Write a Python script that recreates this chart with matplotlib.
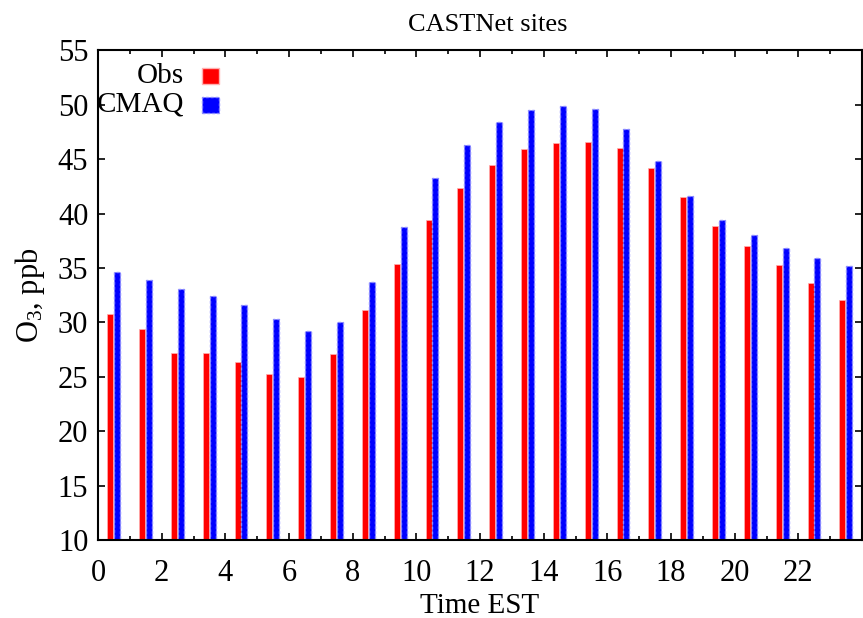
import matplotlib
matplotlib.use("Agg")
import matplotlib.pyplot as plt
from matplotlib.patches import Rectangle
from matplotlib.ticker import MultipleLocator
import numpy as np

# Hourly mean ozone at CASTNet sites
hours = np.arange(24)
obs = [30.8, 29.4, 27.2, 27.2, 26.4, 25.3, 25.0, 27.1, 31.1, 35.4, 39.4, 42.4,
       44.5, 45.9, 46.5, 46.6, 46.0, 44.2, 41.5, 38.9, 37.0, 35.3, 33.6, 32.1]
cmaq = [34.6, 33.9, 33.1, 32.4, 31.6, 30.3, 29.2, 30.0, 33.7, 38.8, 43.3, 46.3,
        48.4, 49.5, 49.9, 49.6, 47.8, 44.8, 41.6, 39.4, 38.0, 36.8, 35.9, 35.2]
series_names = ["Obs", "CMAQ"]

plt.rcParams["font.family"] = ["Liberation Serif", "DejaVu Serif"]
plt.rcParams["mathtext.fontset"] = "custom"
plt.rcParams["mathtext.rm"] = "Liberation Serif"
plt.rcParams["mathtext.it"] = "Liberation Serif:italic"

fig = plt.figure(figsize=(8.63, 6.18), dpi=100)
ax = fig.add_axes([98 / 863, 1 - 540 / 618, 764 / 863, 489.5 / 618])

width = 0.19
ax.bar(hours + 0.385, obs, width=width, bottom=0, color="#ff0000",
       edgecolor="#ffb0b0", linewidth=0.5, zorder=2)
ax.bar(hours + 0.6, cmaq, width=width, bottom=0, color="#0000ff",
       edgecolor="#8c8cff", linewidth=1.0, linestyle=(0, (2, 1.5)), zorder=2)

ax.set_xlim(0, 24)
ax.set_ylim(10, 55)
ax.xaxis.set_minor_locator(MultipleLocator(1))
ax.yaxis.set_major_locator(MultipleLocator(5))
ax.set_xticks(np.arange(0, 23, 2))

ax.tick_params(which="both", direction="in", top=True, right=True,
               labelsize=22, width=1.2)
ax.tick_params(which="major", length=5)
ax.tick_params(which="minor", length=3)
ax.tick_params(axis="y", pad=7)
ax.tick_params(axis="x", pad=14)
for s in ax.spines.values():
    s.set_linewidth(1.5)

ax.set_title("CASTNet sites", fontsize=19, pad=14, x=0.51)
ax.set_xlabel("Time EST", fontsize=21, labelpad=3)
ax.set_ylabel("O$_3$, ppb", fontsize=22, labelpad=8)

# legend drawn gnuplot-style: right-aligned labels, key square to the right
keys = [("#ff0000", "#ffb0b0", "-"), ("#0000ff", "#8c8cff", (0, (2, 1.5)))]
for i, (name, (fc, ec, ls)) in enumerate(zip(series_names, keys)):
    yc = 0.948 - i * 0.059
    ax.text(0.113, yc, name, transform=ax.transAxes, ha="right", va="center",
            fontsize=21)
    ax.add_patch(Rectangle((0.1365, yc - 0.016), 0.0215, 0.032,
                           transform=ax.transAxes, facecolor=fc, edgecolor=ec,
                           linestyle=ls, linewidth=1.0, zorder=3))

fig.savefig("out.png", dpi=100)
